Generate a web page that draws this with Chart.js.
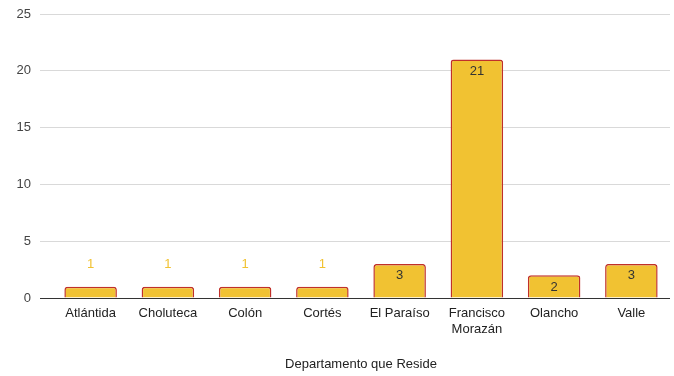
<!DOCTYPE html>
<html lang="es">
<head>
<meta charset="UTF-8">
<title>Departamento que Reside</title>
<script src="https://cdn.jsdelivr.net/npm/chart.js@4.4.1/dist/chart.umd.min.js"></script>
<style>
  html, body { margin: 0; padding: 0; background: #ffffff; }
  #wrap { width: 674px; height: 376px; }
</style>
</head>
<body>
<div id="wrap"><canvas id="chart_canvas"></canvas></div>
<script>
// departamentos y conteos
var departamentos = ['Atlántida', 'Choluteca', 'Colón', 'Cortés', 'El Paraíso',
                     ['Francisco', 'Morazán'], 'Olancho', 'Valle'];
var conteos = [1, 1, 1, 1, 3, 21, 2, 3];
var ejeY = [0, 5, 10, 15, 20, 25];

var AMARILLO = '#f1c232';
var ROJO = '#c0302a';
var FUENTE = 'Arial, "Liberation Sans", sans-serif';

// etiquetas de valor: dentro de la barra si cabe, si no encima en amarillo
var valueLabels = {
    id: 'valueLabels',
    afterDatasetsDraw: function (chart) {
        var ctx = chart.ctx;
        var meta = chart.getDatasetMeta(0);
        ctx.save();
        ctx.font = '13px ' + FUENTE;
        ctx.textAlign = 'center';
        ctx.textBaseline = 'middle';
        meta.data.forEach(function (bar, i) {
            var alto = bar.base - bar.y;
            if (alto > 18) {
                ctx.fillStyle = '#333333';
                ctx.fillText(String(conteos[i]), bar.x, bar.y + 12);
            } else {
                ctx.fillStyle = AMARILLO;
                ctx.fillText(String(conteos[i]), bar.x, bar.y - 22);
            }
        });
        ctx.restore();
    }
};

function colorLinea(c) {
    return c.tick && c.tick.value === 0 ? '#333333' : '#d9d9d9';
}

new Chart(document.getElementById('chart_canvas'), {
    type: 'bar',
    data: {
        labels: departamentos,
        datasets: [{
            data: conteos,
            backgroundColor: AMARILLO,
            borderColor: ROJO,
            borderWidth: 1.5,
            borderRadius: 3,
            barPercentage: 0.68,
            categoryPercentage: 1
        }]
    },
    options: {
        responsive: true,
        maintainAspectRatio: false,
        animation: false,
        layout: { padding: { top: 14, right: 4, left: 0, bottom: 0 } },
        plugins: {
            legend: { display: false },
            tooltip: { enabled: false }
        },
        scales: {
            x: {
                grid: { display: false, drawTicks: false },
                border: { display: false },
                ticks: {
                    color: '#222222',
                    font: { family: FUENTE, size: 13 },
                    padding: 8,
                    maxRotation: 0,
                    autoSkip: false
                },
                title: {
                    display: true,
                    text: 'Departamento que Reside',
                    color: '#222222',
                    font: { family: FUENTE, size: 13 },
                    padding: { top: 20, bottom: 4 }
                },
                afterFit: function (scale) { scale.height = 78; }
            },
            y: {
                min: 0,
                max: 25,
                afterBuildTicks: function (scale) {
                    scale.ticks = ejeY.map(function (v) { return { value: v }; });
                },
                grid: {
                    color: colorLinea,
                    tickColor: colorLinea,
                    tickLength: 12,
                    lineWidth: 1
                },
                border: { display: false },
                ticks: {
                    color: '#444444',
                    font: { family: FUENTE, size: 13 },
                    padding: 9
                },
                afterFit: function (scale) {
                    scale.width = 52;
                    scale.paddingTop = 0;
                    scale.paddingBottom = 0;
                }
            }
        }
    },
    plugins: [valueLabels]
});
</script>
</body>
</html>
